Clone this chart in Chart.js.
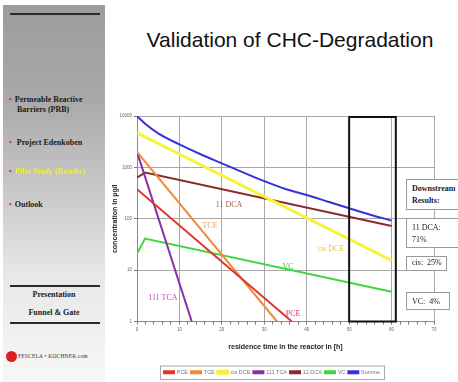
<!DOCTYPE html>
<html>
<head>
<meta charset="utf-8">
<script src="https://cdn.jsdelivr.net/npm/chart.js@4"></script>
<style>
  html, body { margin: 0; padding: 0; background: #fff; width: 458px; height: 382px; overflow: hidden; position: relative; }
  #side { position: absolute; left: 3px; top: 5px; width: 102px; height: 377px;
    background: linear-gradient(to bottom, #9c9c9c 0%, #a9a9a9 25%, #c9c9c9 50%, #e8e8e8 72%, #f7f7f7 100%);
    font-family: "Liberation Serif", "DejaVu Serif", serif; font-weight: bold; font-size: 8px; color: #1a1a1a; }
  #side .rule { position: absolute; left: 7px; width: 90px; height: 2px; background: #2a2a2a; }
  #side .item { position: absolute; left: 6px; line-height: 10px; }
  #side .item b { color: #e0304a; margin-right: 3px; }
  #side .c { position: absolute; left: 0; width: 102px; text-align: center; }
  #logo { position: absolute; left: 3px; top: 346px; font-size: 5.5px; font-weight: normal; color: #333; letter-spacing: 0.2px; }
  #logo span { display: inline-block; width: 11px; height: 11px; border-radius: 50%; background: #d8222a; vertical-align: middle; margin-right: 1px; }
  #title { position: absolute; left: 110px; width: 360px; top: 28px; text-align: center;
    font-family: "Liberation Sans", Arial, sans-serif; font-size: 21px; color: #111; }
  #wrap { position: absolute; left: 110px; top: 100px; width: 348px; height: 285px; }
  .box { position: absolute; background: #fff; border: 1px solid #9a9a9a; font-family: "Liberation Serif", serif;
    font-size: 8px; color: #222; padding: 2px 5px; line-height: 12px; box-sizing: border-box; white-space: nowrap; overflow: hidden; }
</style>
</head>
<body>
<div id="side">
  <div class="rule" style="top:8px"></div>
  <div class="item" style="top:90px"><b>•</b>Permeable Reactive<br><span style="margin-left:8px">Barriers (PRB)</span></div>
  <div class="item" style="top:133px"><b>•</b>&nbsp;Project Edenkoben</div>
  <div class="item" style="top:162px; color:#f2f020"><b>•</b>Pilot Study (Results)</div>
  <div class="item" style="top:195px"><b>•</b>Outlook</div>
  <div class="rule" style="top:280px"></div>
  <div class="c" style="top:285px">Presentation</div>
  <div class="c" style="top:303px">Funnel &amp; Gate</div>
  <div class="rule" style="top:317px"></div>
  <div id="logo"><span></span>FESCELA • KOCHNER.com</div>
</div>
<div id="title">Validation of CHC-Degradation</div>
<div id="wrap"><canvas id="c"></canvas></div>
<div class="box" style="left:406px; top:179px; width:60px; height:31px; font-weight:bold; padding-top:3px">Downstream<br>Results:</div>
<div class="box" style="left:406px; top:218px; width:60px; height:30px; padding-top:3px">11 DCA:<br>71%</div>
<div class="box" style="left:406px; top:256px; width:41px; height:15px; line-height:10px; padding-top:1px">cis:&nbsp; 25%</div>
<div class="box" style="left:406px; top:292px; width:44px; height:18px; line-height:14px">VC:&nbsp; 4%</div>
<script>
// hours / concentrations (µg/l, log axis)
const pceX = [0, 36.5];
const pceY = [375, 1];
const tceX = [0, 33];
const tceY = [2000, 1];
const cisX = [0, 60];
const cisY = [4700, 15.5];
const tcaX = [0, 12.9];
const tcaY = [2000, 1];
const dcaX = [0, 1.9, 60];
const dcaY = [630, 790, 72];
const vcX = [0, 1.9, 60];
const vcY = [21, 41, 3.8];
const sumX = [0, 2, 5, 10, 15, 20, 25, 30, 35, 40, 45, 50, 55, 60];
const sumY = [10000, 7000, 4600, 2800, 1800, 1200, 800, 540, 380, 290, 215, 160, 120, 92];

const seriesNames = ['PCE', 'TCE', 'cis DCE', '111 TCA', '11-DCA', 'VC', 'Summe'];
const seriesColors = ['#e0342e', '#f08a3a', '#f4f43c', '#8a2fa8', '#8a2a2a', '#3ed83e', '#3434d8'];
const seriesX = [pceX, tceX, cisX, tcaX, dcaX, vcX, sumX];
const seriesY = [pceY, tceY, cisY, tcaY, dcaY, vcY, sumY];

// in-plot labels: text, hour, concentration, colour
const tagText = ['11 DCA', 'TCE', 'cis DCE', 'VC', '111 TCA', 'PCE'];
const tagX = [21.7, 17.2, 45.7, 35.6, 6.1, 36.8];
const tagY = [182, 71, 26, 11.8, 2.9, 1.43];
const tagColor = ['#a05a44', '#eaa050', '#e6c444', '#3cc43c', '#d040b0', '#e0307a'];

// residence window in the reactor
const boxFrom = 50, boxTo = 61;

const pts = (xs, ys) => xs.map((x, i) => ({ x, y: ys[i] }));
const isDecade = v => Math.abs(Math.log10(v) - Math.round(Math.log10(v))) < 1e-9;

const extras = {
  id: 'extras',
  afterDatasetsDraw(chart) {
    const { ctx, scales: { x, y } } = chart;
    ctx.save();
    ctx.font = '8px "Liberation Serif", serif';
    ctx.textAlign = 'center';
    ctx.textBaseline = 'middle';
    tagText.forEach((t, i) => {
      ctx.fillStyle = tagColor[i];
      ctx.fillText(t, x.getPixelForValue(tagX[i]), y.getPixelForValue(tagY[i]));
    });
    const l = x.getPixelForValue(boxFrom), r = x.getPixelForValue(boxTo);
    ctx.strokeStyle = '#111';
    ctx.lineWidth = 2;
    ctx.strokeRect(l, y.top + 1, r - l, y.bottom - y.top - 1);
    ctx.restore();
  },
  afterDraw(chart) {
    const lg = chart.legend;
    if (!lg || !lg.legendHitBoxes.length) return;
    const hb = lg.legendHitBoxes;
    const left = Math.min(...hb.map(b => b.left)) - 4;
    const right = Math.max(...hb.map(b => b.left + b.width)) + 4;
    const top = Math.min(...hb.map(b => b.top)) - 4;
    const bot = Math.max(...hb.map(b => b.top + b.height)) + 4;
    const ctx = chart.ctx;
    ctx.save();
    ctx.strokeStyle = '#aaa';
    ctx.lineWidth = 1;
    ctx.strokeRect(left + 0.5, top + 0.5, right - left, bot - top);
    ctx.restore();
  }
};

new Chart(document.getElementById('c'), {
  type: 'line',
  data: {
    datasets: seriesNames.map((name, i) => ({
      label: name,
      data: pts(seriesX[i], seriesY[i]),
      borderColor: seriesColors[i],
      backgroundColor: seriesColors[i],
      borderWidth: i === 2 ? 3 : 2,
      pointRadius: 0,
      tension: 0,
      cubicInterpolationMode: name === 'Summe' ? 'monotone' : 'default'
    }))
  },
  options: {
    responsive: true,
    maintainAspectRatio: false,
    animation: false,
    layout: { padding: { top: 16, right: 24, left: 0, bottom: 0 } },
    plugins: {
      legend: {
        position: 'bottom',
        labels: { boxWidth: 10, boxHeight: 2, padding: 3, color: '#777',
          font: { size: 5.5, family: 'Liberation Sans, Arial, sans-serif' } }
      },
      tooltip: { enabled: false }
    },
    scales: {
      x: {
        type: 'linear', min: 0, max: 70,
        ticks: { stepSize: 2, autoSkip: false, maxRotation: 0, padding: 3, color: '#666',
          font: { size: 4.5, family: 'Liberation Sans, Arial, sans-serif' },
          callback: v => (v % 10 === 0 ? v : '') },
        grid: { color: c => (c.tick && c.tick.value % 10 === 0 ? '#a8a8a8' : 'rgba(0,0,0,0)'),
          tickColor: '#777', tickLength: 3, lineWidth: 1 },
        border: { color: '#888' },
        title: { display: true, text: 'residence time in the reactor in [h]', color: '#222',
          font: { size: 7, weight: 'bold', family: 'Liberation Sans, Arial, sans-serif' },
          padding: { top: 0, bottom: 15 } },
        afterFit: s => { s.height = 45; }
      },
      y: {
        type: 'logarithmic', min: 1, max: 10000,
        afterBuildTicks: s => { s.ticks = s.ticks.filter(t => isDecade(t.value)); },
        ticks: { color: '#666', padding: 2, font: { size: 4.5, family: 'Liberation Sans, Arial, sans-serif' },
          callback: v => String(v) },
        grid: { color: '#a8a8a8', tickColor: '#777', tickLength: 3 },
        border: { color: '#888' },
        title: { display: true, text: 'concentration in µg/l', color: '#222',
          font: { size: 7, weight: 'bold', family: 'Liberation Sans, Arial, sans-serif' },
          padding: { top: 1, bottom: 0 } },
        afterFit: s => { s.width = 27; }
      }
    }
  },
  plugins: [extras]
});
</script>
</body>
</html>
